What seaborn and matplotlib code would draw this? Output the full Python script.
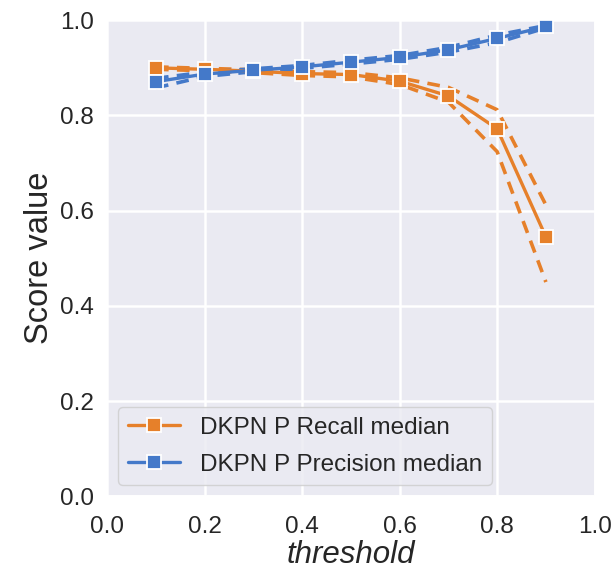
import numpy as np
import pandas as pd
import seaborn as sns
import matplotlib
matplotlib.use("Agg")
import matplotlib.pyplot as plt

thresholds = [0.1, 0.2, 0.3, 0.4, 0.5, 0.6, 0.7, 0.8, 0.9]
recall_median = [0.900, 0.897, 0.893, 0.888, 0.886, 0.872, 0.841, 0.772, 0.545]
recall_upper = [0.902, 0.899, 0.896, 0.892, 0.890, 0.879, 0.859, 0.812, 0.612]
recall_lower = [0.897, 0.894, 0.890, 0.884, 0.881, 0.865, 0.828, 0.724, 0.450]
precision_median = [0.871, 0.887, 0.895, 0.902, 0.912, 0.922, 0.938, 0.962, 0.987]
precision_upper = [0.878, 0.891, 0.898, 0.905, 0.916, 0.926, 0.943, 0.969, 0.989]
precision_lower = [0.858, 0.882, 0.892, 0.899, 0.908, 0.918, 0.933, 0.953, 0.984]

recall_label = "DKPN P Recall median"
precision_label = "DKPN P Precision median"
orange = "#E6802A"
blue = "#4479C9"

sns.set_theme(style="darkgrid", rc={"grid.linewidth": 1.8})
plt.rcParams['font.family'] = ['Liberation Sans', 'DejaVu Sans']

fig, ax = plt.subplots(figsize=(6.13, 5.79), dpi=100)

for lo, hi, col in [(recall_lower, recall_upper, orange), (precision_lower, precision_upper, blue)]:
    for arr in (lo, hi):
        sns.lineplot(x=thresholds, y=arr, ax=ax, color=col, linestyle=(0, (3.5, 2.3)),
                     linewidth=2.6, legend=False)

sns.lineplot(x=thresholds, y=recall_median, ax=ax, color=orange, marker="s", markersize=9.5,
             markeredgecolor="white", markeredgewidth=1.3, linewidth=2.4, label=recall_label)
sns.lineplot(x=thresholds, y=precision_median, ax=ax, color=blue, marker="s", markersize=9.5,
             markeredgecolor="white", markeredgewidth=1.3, linewidth=2.4, label=precision_label)

ax.set_xlim(0, 1)
ax.set_ylim(0, 1)
ax.set_xticks([0, 0.2, 0.4, 0.6, 0.8, 1.0])
ax.set_yticks([0, 0.2, 0.4, 0.6, 0.8, 1.0])
ax.tick_params(labelsize=17.5)
ax.tick_params(axis="x", pad=8)
ax.set_xlabel("threshold", fontsize=22.5, fontstyle="italic", labelpad=2)
ax.set_ylabel("Score value", fontsize=23.5)
ax.legend(loc="lower left", fontsize=17.5, handlelength=2.15, handletextpad=0.8,
          labelspacing=0.6, borderaxespad=0.45)

fig.subplots_adjust(left=0.175, right=0.97, bottom=0.143, top=0.965)
fig.savefig("out.png", dpi=100)
